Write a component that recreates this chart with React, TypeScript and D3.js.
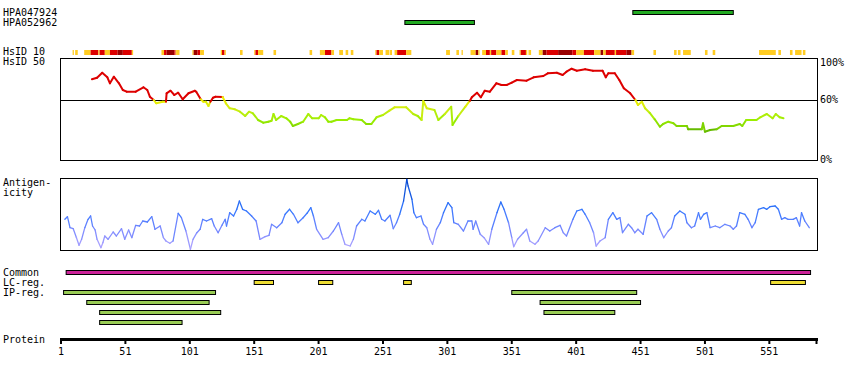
import React from "react";
import * as d3 from "d3";

const W = 850;
const H = 380;
const proteinStart = 1;
const proteinEnd = 588;
const tickValues = [1, 51, 101, 151, 201, 251, 301, 351, 401, 451, 501, 551];

const antibodyNames = ["HPA047924", "HPA052962"];
const antibodyRanges: [number, number][] = [[445, 523], [268, 322]];

// [start, end, level] level 1 = yellow, 2 = red, 3 = dark red
const hsid10Segments: [number, number, number][] = [
  [10, 11, 1], [12, 14, 1], [19, 24, 1], [24, 30, 2], [30, 31, 1], [31, 35, 2], [35, 39, 1], [39, 45, 2], [45, 49, 3], [49, 56, 2], [56, 57, 1],
  [79, 81, 1], [81, 83, 2], [83, 89, 3], [89, 90, 2], [90, 91, 1], [91, 93, 1],
  [103, 104, 1], [104, 107, 3], [107, 109, 2], [109, 112, 1],
  [125, 126, 1], [126, 128, 2], [128, 129, 1], [140, 142, 1],
  [151, 152, 1], [152, 154, 2], [154, 158, 1], [166, 168, 1], [194, 196, 1],
  [202, 206, 1], [206, 211, 2], [211, 213, 1], [217, 220, 1], [222, 224, 1], [226, 228, 1],
  [245, 246, 1], [246, 248, 2], [248, 251, 1], [253, 256, 1], [256.5, 258, 1], [260, 262, 1], [262, 269, 2], [269, 273, 1],
  [300, 303, 1], [308, 310, 1], [312, 313, 1], [319, 323, 1], [323, 325, 3], [325, 326, 1], [328, 331, 1], [331, 334, 2], [334, 335, 1],
  [335, 339, 2], [339, 343, 1], [343, 346, 2], [346, 348, 1], [351, 353, 1], [357, 358, 1], [358, 362, 2], [362, 363, 1], [364, 366, 1],
  [372, 375, 1], [375, 378, 3], [378, 387, 2], [387, 398, 3], [398, 401, 2], [401, 407, 1], [407, 415, 2], [415, 420, 1], [420, 422, 3],
  [422, 424, 1], [424, 431, 2], [431, 432, 1], [432, 440, 2], [440, 444, 3], [444, 446, 1],
  [461, 463, 1], [477, 479, 1], [480, 482, 1], [484, 490, 1], [501, 503, 1], [507, 509, 1],
  [543, 556, 1], [558, 560, 1], [567, 569, 1], [571, 576, 1], [577, 579, 1],
];

// [residue, % identity]
const hsid50: [number, number][] = [
  [25, 80.7], [29, 82.3], [33, 87.3], [37, 82.7], [39, 76.7], [42, 83.3], [46, 76.7], [49, 70], [52, 68.3], [59, 68.3], [65, 72.7],
  [68, 70], [70, 63.3], [73, 60], [75, 56.7], [80, 58.3], [82.5, 58.3], [83, 66.7], [86, 69.3], [89, 65], [92, 67.3], [95.5, 60.7],
  [100, 66.7], [105, 69.3], [106, 68.3], [109.5, 60.7], [111.5, 58.3], [113.5, 58.3], [115.5, 54], [117, 58.3], [119, 62.3],
  [121, 63.3], [126.5, 63], [129, 56.7], [132, 51.7], [136, 50.7], [140, 48.3], [144, 44], [147, 48.3], [150, 46.7], [154, 40],
  [158, 37.3], [162, 38.3], [164.5, 39.3], [166, 46], [168, 40], [172, 44], [176, 41.7], [179, 38.3], [181, 34], [185, 36],
  [189, 38.3], [193, 46], [196, 41.7], [201, 41.7], [203, 45], [206, 42.7], [208.5, 38.3], [211, 38.3], [215, 40], [223, 40],
  [225, 41.7], [228, 40.7], [234.5, 40], [238, 36], [242, 36], [246, 42.7], [251, 45], [256, 49.3], [260, 52.7], [269, 52.7],
  [274.5, 46], [278, 44], [281, 40], [282.3, 59], [285, 51.7], [291, 50], [294, 40], [299, 46], [304, 53.3], [305, 35],
  [309.5, 44], [315, 53.3], [318.5, 59.3], [320, 62.7], [324, 67.3], [327, 62.7], [330, 69.3], [334, 68.3], [339, 76.7],
  [343, 75], [347, 75], [351, 77.3], [355, 80], [362.5, 79.3], [368, 82.7], [375.5, 84], [379, 86.7], [386, 87.3], [390.5, 85],
  [393.5, 88.3], [397.5, 91.3], [401.5, 89.3], [408, 90.7], [414, 89.3], [421.5, 89.3], [424, 82.7], [426, 86.7], [431, 86.7],
  [434.5, 80], [438, 71.7], [443, 66.7], [447, 60], [449, 55], [452, 58.3], [454.5, 51.7], [458, 47.3], [462, 40.7], [466, 33.3],
  [468.5, 36], [472.5, 38.3], [476.5, 36.7], [479, 34], [487, 34], [488, 30.7], [498.5, 30.7], [499.5, 36.7], [501, 28.3],
  [505, 30], [510, 30.7], [514, 34], [523, 34], [528, 36], [530, 34], [533, 40], [541, 40], [544, 42.7], [549, 46],
  [553.5, 41.7], [556, 46], [559, 42.7], [562, 41.7],
];

// [residue, antigenicity]
const antigenicity: [number, number][] = [
  [4, 30.7], [6, 33.3], [8, 22.3], [10.5, 21.3], [13, 12.3], [15, 4.7], [17, 10.7], [19.5, 22.3], [22, 30.7], [24, 34], [25.5, 24],
  [27.5, 20], [29, 10.7], [32, 2.3], [33.5, 7.3], [35, 14], [37.5, 10.7], [41.5, 18], [44, 14], [48, 21.3], [50.5, 10.7], [53.5, 20],
  [56, 12.3], [59, 24.7], [62, 24], [64.5, 29], [68, 28], [71.5, 33.3], [74, 20.7], [78, 24], [80.5, 12.3], [82.5, 9], [85.5, 6.7],
  [88, 9], [92, 36.7], [94.5, 32.3], [98, 19], [101.5, 0.7], [103.5, 10.7], [106.5, 17.3], [109, 20.7], [111, 30.7], [114, 29],
  [118, 31.3], [120, 24], [123, 17.3], [126, 24.7], [128.5, 30.7], [129.5, 24], [132, 37.3], [135, 34], [137.5, 40.7], [139.5, 49],
  [142, 40.7], [145, 39], [149, 34], [152.5, 29], [155.5, 10.7], [159.5, 13.3], [162.5, 14.7], [164.5, 25.7], [168.5, 22.3],
  [172.5, 27.3], [175, 35.7], [178.5, 40.7], [181.5, 35.7], [185, 27.3], [189, 32.3], [192, 36.7], [195, 42.3], [197, 34],
  [199.5, 20.7], [204.5, 10.7], [208.5, 12.3], [212.5, 19], [216.5, 27.3], [219, 15.7], [221.5, 5.7], [225.5, 4], [228, 10.7],
  [230.5, 24], [234.5, 30.7], [237, 29], [241, 39], [245, 35.7], [247.5, 39.7], [250, 30.7], [252.5, 29], [256.5, 34.7],
  [259, 21.3], [261.5, 27.3], [264, 35.7], [267, 49], [269.5, 70.7], [270.5, 64], [273.5, 50.7], [275, 37.3], [277, 32.3],
  [280.5, 34], [282.5, 25.7], [285, 22.3], [287.5, 10.7], [289.5, 5.7], [292.5, 20.7], [295.5, 27.3], [298, 37.3], [301.5, 47.3],
  [304.5, 42.3], [306, 27.3], [309.5, 25.7], [313.5, 19], [317, 29], [320, 29], [321, 20.7], [323, 29], [326.5, 15.7],
  [329.5, 12.3], [333, 5.7], [335.5, 20.7], [339.5, 37.3], [342.5, 48], [345, 40.7], [348.5, 27.3], [351, 12.3], [352.5, 3.3],
  [355.5, 10.7], [360, 17.3], [362.5, 20.7], [365, 9], [369, 5.7], [371.5, 9], [377, 22.3], [380.5, 19], [384.5, 22.3],
  [388.5, 24.7], [391, 17.3], [393.5, 14], [398.5, 30.7], [401.5, 39], [405.5, 40.7], [408, 35.7], [411.5, 27.3], [414.5, 17.3],
  [416.5, 4], [419.5, 9], [423.5, 12.3], [426, 30.7], [429.5, 37.3], [432.5, 30.7], [435, 32.3], [437, 17.3], [441.5, 25.7],
  [444, 22.3], [446.5, 17.3], [449, 20.7], [453, 15.7], [456, 34], [459.5, 37.3], [463.5, 30.7], [466, 20.7], [469, 12.3],
  [472.5, 19], [475, 22.3], [477.5, 34], [481.5, 39], [485.5, 35.7], [487, 27.3], [490.5, 22.3], [493, 24], [496, 37.3],
  [497.5, 30.7], [500, 35.7], [502.5, 37.3], [505, 22.3], [509, 24], [512.5, 22.3], [516.5, 25.7], [520.5, 24], [523, 20.7],
  [525.5, 24], [528, 37.3], [532, 35.7], [534.5, 30.7], [537.5, 22.3], [540, 27.3], [542.5, 40.7], [546.5, 42.3], [549, 40.7],
  [551.5, 43.3], [555.5, 44], [558, 40.7], [560.5, 30.7], [563, 32.3], [565.5, 30.7], [569.5, 30.7], [572, 32.3], [574.5, 24],
  [576, 37.3], [578.5, 29], [582, 22.3],
];

const commonRanges: [number, number][] = [[5, 583]];
const lcRanges: [number, number][] = [[151, 166], [201, 212], [267, 273], [552, 579]];
// [start, end, row]
const ipRanges: [number, number, number][] = [
  [3, 121, 0], [351, 448, 0], [21, 116, 1], [373, 451, 1], [31, 125, 2], [376, 431, 2], [31, 95, 3],
];

const rowLabels = ["Common", "LC-reg.", "IP-reg."];
const idLabels = ["60%", "100%", "0%"];
const idLabelValues = [60, 100, 0];

const FONT = "'DejaVu Sans Mono', monospace";

export default function App() {
  const x = d3.scaleLinear().domain([proteinStart, proteinEnd]).range([61, 817]);
  const yId = d3.scaleLinear().domain([0, 100]).range([160, 60]);
  const yAg = d3.scaleLinear().domain([0, 72]).range([250, 178]);

  const idColorScale = d3
    .scaleLinear<string>()
    .domain([31, 40, 50, 60])
    .range(["#77cc00", "#99ee00", "#ccee11", "#eeee00"])
    .clamp(true);
  const idColor = (v: number) => (v >= 60 ? "#dd0000" : v < 31.5 ? "#66bb00" : idColorScale(v));
  const agColor = d3
    .scaleLinear<string>()
    .domain([0, 20, 40, 70])
    .range(["#bbaaff", "#7788ff", "#3377ff", "#0044cc"])
    .clamp(true);
  const levelColor = ["", "#ffcc22", "#dd0000", "#990000"];

  const rangeRect = (r: [number, number], y: number, fill: string, key: string) => (
    <rect key={key} x={x(r[0])} y={y} width={x(r[1]) - x(r[0])} height={4} fill={fill} stroke="#000" strokeWidth={1} />
  );

  const txt = (s: string, tx: number, ty: number, anchor: string = "start", key?: string) => (
    <text key={key ?? s + tx + ty} x={tx} y={ty} fontFamily={FONT} fontSize={10} textAnchor={anchor} fill="#000">
      {s}
    </text>
  );

  return (
    <svg width={W} height={H} style={{ position: "absolute", left: 0, top: 0, background: "#fff" }}>
      <rect x={0} y={0} width={W} height={H} fill="#fff" />
      {/* antibodies */}
      {antibodyNames.map((n, i) => txt(n, 3, 16 + i * 10, "start", "ab" + i))}
      {antibodyRanges.map((r, i) => rangeRect(r, 10.5 + i * 10, "#22aa22", "abr" + i))}

      {/* HsID 10 strip */}
      {txt("HsID 10", 3, 55)}
      {hsid10Segments.map((s, i) => (
        <rect key={"h10" + i} x={x(s[0])} y={50} width={x(s[1]) - x(s[0])} height={5} fill={levelColor[s[2]]} />
      ))}

      {/* HsID 50 panel */}
      {txt("HsID 50", 3, 65)}
      <rect x={60.5} y={58.5} width={757} height={102} fill="none" stroke="#000" strokeWidth={1} />
      <line x1={60} x2={818} y1={100.5} y2={100.5} stroke="#000" strokeWidth={1} />
      {idLabels.map((l, i) => txt(l, 820, yId(idLabelValues[i]) + (i === 1 ? 6 : 3), "start", "idl" + i))}
      {hsid50.slice(1).map((p, i) => {
        const q = hsid50[i];
        return (
          <line
            key={"h50" + i}
            x1={x(q[0])}
            y1={yId(q[1])}
            x2={x(p[0])}
            y2={yId(p[1])}
            stroke={idColor((q[1] + p[1]) / 2)}
            strokeWidth={2}
            strokeLinecap="round"
          />
        );
      })}

      {/* Antigenicity panel */}
      {txt("Antigen-", 3, 186)}
      {txt("icity", 3, 196)}
      <rect x={60.5} y={178.5} width={757} height={72} fill="none" stroke="#000" strokeWidth={1} />
      {antigenicity.slice(1).map((p, i) => {
        const q = antigenicity[i];
        return (
          <line
            key={"ag" + i}
            x1={x(q[0])}
            y1={yAg(q[1])}
            x2={x(p[0])}
            y2={yAg(p[1])}
            stroke={agColor((q[1] + p[1]) / 2)}
            strokeWidth={1.3}
            strokeLinecap="round"
          />
        );
      })}

      {/* Regions */}
      {rowLabels.map((l, i) => txt(l, 3, 276 + i * 10, "start", "rl" + i))}
      {commonRanges.map((r, i) => rangeRect(r, 270.5, "#cc2299", "cm" + i))}
      {lcRanges.map((r, i) => rangeRect(r, 280.5, "#eedd33", "lc" + i))}
      {ipRanges.map((r, i) => rangeRect([r[0], r[1]], 290.5 + r[2] * 10, "#99cc55", "ip" + i))}

      {/* Protein axis */}
      {txt("Protein", 3, 342.5)}
      <line x1={60} x2={818} y1={339.5} y2={339.5} stroke="#000" strokeWidth={3} />
      {tickValues.map((t) => (
        <g key={"t" + t}>
          <line x1={x(t)} x2={x(t)} y1={339} y2={344} stroke="#000" strokeWidth={2} />
          {txt(String(t), x(t), 355, "middle", "tl" + t)}
        </g>
      ))}
      <line x1={x(proteinEnd) - 0.5} x2={x(proteinEnd) - 0.5} y1={339} y2={344} stroke="#000" strokeWidth={2} />
    </svg>
  );
}
